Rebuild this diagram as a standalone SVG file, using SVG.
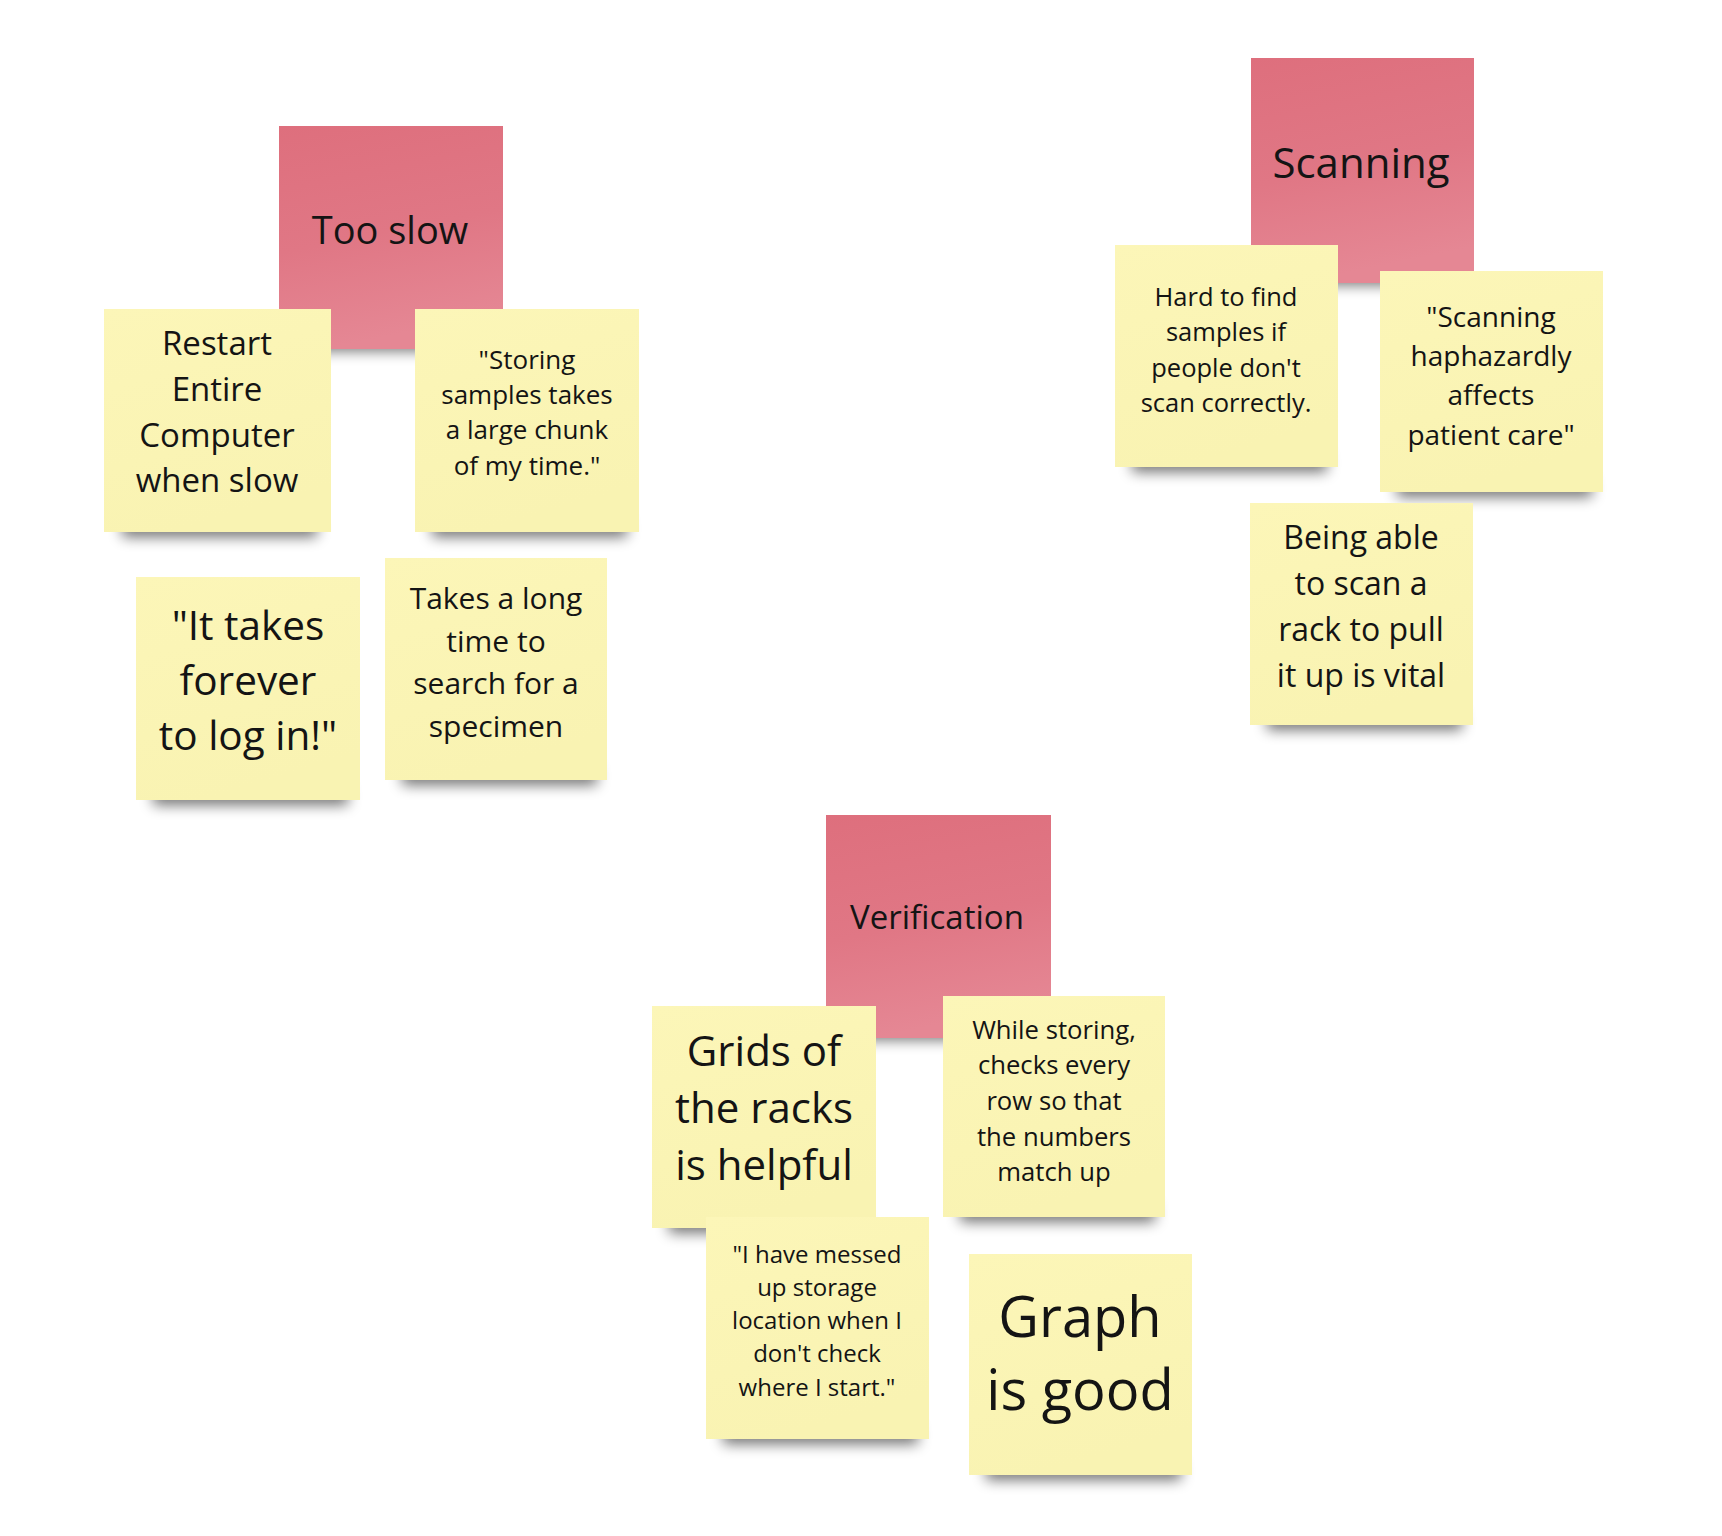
<svg xmlns="http://www.w3.org/2000/svg" width="1722" height="1536" viewBox="0 0 1722 1536">
<defs>
<filter id="blur" x="-20%" y="-200%" width="140%" height="500%"><feGaussianBlur stdDeviation="7"/></filter>
<linearGradient id="redg" x1="0" y1="0" x2="0.2" y2="1"><stop offset="0" stop-color="#de6f7d"/><stop offset="0.55" stop-color="#e07785"/><stop offset="1" stop-color="#e58794"/></linearGradient>
<linearGradient id="yelg" x1="0" y1="0" x2="0.3" y2="1"><stop offset="0" stop-color="#fcf6b8"/><stop offset="1" stop-color="#f9f3b2"/></linearGradient>
</defs>
<style>
.red{fill:url(#redg)}
.yel{fill:url(#yelg)}
.sh{fill:#000;opacity:0.55;filter:url(#blur)}
text{font-family:"Open Sans","Noto Sans","DejaVu Sans",sans-serif;fill:#141414;text-anchor:middle}
</style>
<rect width="1722" height="1536" fill="#ffffff"/>
<g id="connectors"/>

<!-- Too slow group -->
<g id="too-slow">
<rect class="sh" x="295" y="333" width="192" height="18"/>
<rect class="red" x="279" y="126" width="224" height="223"/>
<text x="390" y="244" font-size="38">Too slow</text>
</g>
<g id="restart">
<rect class="sh" x="122" y="519" width="195" height="18"/>
<rect class="yel" x="104" y="309" width="227" height="223"/>
<text font-size="33"><tspan x="217" y="355">Restart</tspan><tspan x="217" y="401">Entire</tspan><tspan x="217" y="447">Computer</tspan><tspan x="217" y="492">when slow</tspan></text>
</g>
<g id="storing">
<rect class="sh" x="432" y="519" width="195" height="18"/>
<rect class="yel" x="415" y="309" width="224" height="223"/>
<text font-size="26"><tspan x="527" y="369">"Storing</tspan><tspan x="527" y="404">samples takes</tspan><tspan x="527" y="439">a large chunk</tspan><tspan x="527" y="475">of my time."</tspan></text>
</g>
<g id="forever">
<rect class="sh" x="153" y="787" width="195" height="18"/>
<rect class="yel" x="136" y="577" width="224" height="223"/>
<text font-size="40.5"><tspan x="248" y="640">"It takes</tspan><tspan x="248" y="695">forever</tspan><tspan x="248" y="750">to log in!"</tspan></text>
</g>
<g id="takes-long">
<rect class="sh" x="402" y="767" width="195" height="18"/>
<rect class="yel" x="385" y="558" width="222" height="222"/>
<text font-size="30"><tspan x="496" y="609">Takes a long</tspan><tspan x="496" y="652">time to</tspan><tspan x="496" y="694">search for a</tspan><tspan x="496" y="737">specimen</tspan></text>
</g>

<!-- Scanning group -->
<g id="scanning">
<rect class="sh" x="1266" y="267" width="192" height="18"/>
<rect class="red" x="1251" y="58" width="223" height="225"/>
<text x="1361" y="178" font-size="42">Scanning</text>
</g>
<g id="hard-to-find">
<rect class="sh" x="1132" y="454" width="195" height="18"/>
<rect class="yel" x="1115" y="245" width="223" height="222"/>
<text font-size="25.5"><tspan x="1226" y="306">Hard to find</tspan><tspan x="1226" y="341">samples if</tspan><tspan x="1226" y="377">people don't</tspan><tspan x="1226" y="412">scan correctly.</tspan></text>
</g>
<g id="haphazardly">
<rect class="sh" x="1397" y="479" width="195" height="18"/>
<rect class="yel" x="1380" y="271" width="223" height="221"/>
<text font-size="28"><tspan x="1491" y="327">"Scanning</tspan><tspan x="1491" y="366">haphazardly</tspan><tspan x="1491" y="405">affects</tspan><tspan x="1491" y="445">patient care"</tspan></text>
</g>
<g id="being-able">
<rect class="sh" x="1267" y="712" width="195" height="18"/>
<rect class="yel" x="1250" y="503" width="223" height="222"/>
<text font-size="32"><tspan x="1361" y="549">Being able</tspan><tspan x="1361" y="595">to scan a</tspan><tspan x="1361" y="641">rack to pull</tspan><tspan x="1361" y="687">it up is vital</tspan></text>
</g>

<!-- Verification group -->
<g id="verification">
<rect class="sh" x="842" y="1022" width="192" height="18"/>
<rect class="red" x="826" y="815" width="225" height="223"/>
<text x="937" y="929" font-size="33">Verification</text>
</g>
<g id="grids">
<rect class="sh" x="669" y="1215" width="195" height="18"/>
<rect class="yel" x="652" y="1006" width="224" height="222"/>
<text font-size="42"><tspan x="764" y="1066">Grids of</tspan><tspan x="764" y="1123">the racks</tspan><tspan x="764" y="1180">is helpful</tspan></text>
</g>
<g id="while-storing">
<rect class="sh" x="960" y="1204" width="195" height="18"/>
<rect class="yel" x="943" y="996" width="222" height="221"/>
<text font-size="25.7"><tspan x="1054" y="1039">While storing,</tspan><tspan x="1054" y="1074">checks every</tspan><tspan x="1054" y="1110">row so that</tspan><tspan x="1054" y="1146">the numbers</tspan><tspan x="1054" y="1181">match up</tspan></text>
</g>
<g id="messed-up">
<rect class="sh" x="723" y="1426" width="195" height="18"/>
<rect class="yel" x="706" y="1217" width="223" height="222"/>
<text font-size="24"><tspan x="817" y="1263">"I have messed</tspan><tspan x="817" y="1296">up storage</tspan><tspan x="817" y="1329">location when I</tspan><tspan x="817" y="1362">don't check</tspan><tspan x="817" y="1396">where I start."</tspan></text>
</g>
<g id="graph">
<rect class="sh" x="986" y="1462" width="195" height="18"/>
<rect class="yel" x="969" y="1254" width="223" height="221"/>
<text font-size="56"><tspan x="1080" y="1337">Graph</tspan><tspan x="1080" y="1410">is good</tspan></text>
</g>
</svg>
